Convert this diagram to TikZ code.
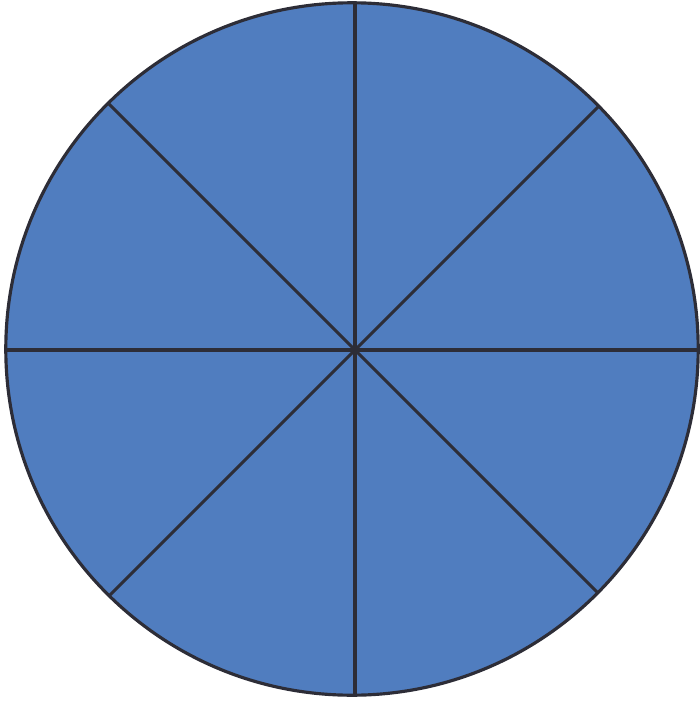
\documentclass[tikz,border=0pt]{standalone}
\usetikzlibrary{positioning}
\definecolor{pieblue}{RGB}{80,125,191}
\definecolor{pieline}{RGB}{45,45,55}

\begin{document}
\begin{tikzpicture}[x=0.01cm, y=-0.01cm]
    \tikzstyle{disc} = [circle, fill=pieblue, minimum size=6.92cm, inner sep=0pt]
    \tikzstyle{rim} = [circle, draw=pieline, line width=0.9pt, minimum size=6.92cm, inner sep=0pt]
    \tikzstyle{spoke} = [draw=pieline, line width=0.9pt]
    \useasboundingbox (0,0) rectangle (700,703);

    % Nodes
    \node (pie) [disc] at (352,349) {};
    \coordinate (hub) at (355,350);

    % Spokes, cut off at the edge of the disc
    \begin{scope}
        \clip (pie.center) circle (346);
        \foreach \a in {0,45,...,315}
            \draw [spoke] (hub) -- ++(\a:420);
    \end{scope}

    % Outline
    \node (edge) [rim] at (pie.center) {};
\end{tikzpicture}
\end{document}
